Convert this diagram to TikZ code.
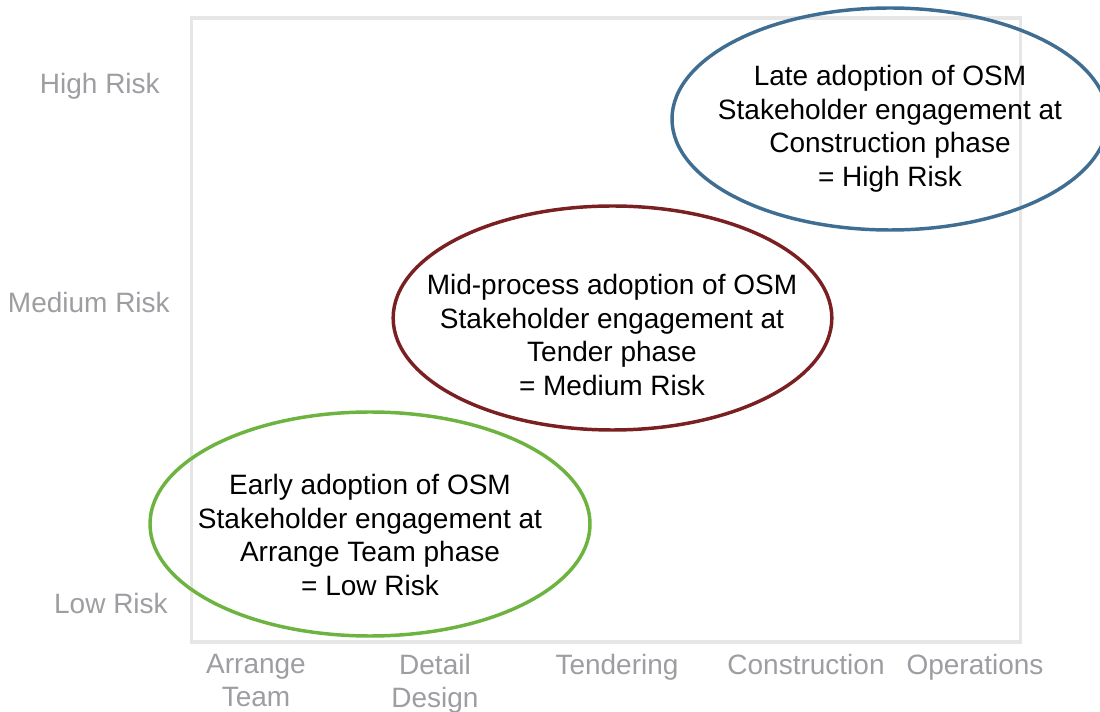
\documentclass[tikz,border=0pt]{standalone}
\usepackage{fontspec}
\setmainfont{Liberation Sans}
\usetikzlibrary{shapes.geometric}
\definecolor{framegray}{HTML}{E6E6E6}
\definecolor{axisgray}{HTML}{9D9DA2}
\definecolor{highblue}{HTML}{3F6E92}
\definecolor{midred}{HTML}{7A1F22}
\definecolor{lowgreen}{HTML}{6CB33F}
\tikzset{
  axislabel/.style={text=axisgray, inner sep=0pt, font=\fontsize{21}{25}\selectfont},
  xlabel/.style={axislabel, align=center, anchor=north},
  riskzone/.style={ellipse, draw, line width=2.6pt, inner sep=0pt},
  zonetext/.style={align=center, anchor=north, inner sep=0pt, text=black,
                   font=\fontsize{21}{25.2}\selectfont},
}
\begin{document}
\begin{tikzpicture}[x=0.75pt, y=-0.75pt]
\useasboundingbox (0,0) rectangle (1100,712);

% chart frame
\node[draw=framegray, line width=2.4pt, minimum width=621.75pt, minimum height=468pt, inner sep=0pt]
  (frame) at (606,330) {};

% risk levels
\node[axislabel, anchor=base east] (high) at (160,94) {High Risk};
\node[axislabel, anchor=base east] (medium) at (170,313) {Medium Risk};
\node[axislabel, anchor=base east] (low) at (168,614) {Low Risk};

% project stages
\node[xlabel] (arrange) at (256,654) {Arrange\\Team};
\node[xlabel] (detail) at (435,654) {Detail\\Design};
\node[xlabel] (tender) at (617,654) {Tendering};
\node[xlabel] (constr) at (806,654) {Construction};
\node[xlabel] (ops) at (975,654) {Operations};

% risk zones
\node[riskzone, draw=highblue, minimum width=327pt, minimum height=166.5pt] (zhigh) at (890,119) {};
\node[riskzone, draw=midred, minimum width=329pt, minimum height=168pt] (zmid) at (612.5,318) {};
\node[riskzone, draw=lowgreen, minimum width=330pt, minimum height=168pt] (zlow) at (370,524) {};

\node[zonetext] (thigh) at (890,65) {Late adoption of OSM\\Stakeholder engagement at\\Construction phase\\= High Risk};
\node[zonetext] (tmid) at (612,274) {Mid-process adoption of OSM\\Stakeholder engagement at\\Tender phase\\= Medium Risk};
\node[zonetext] (tlow) at (370,474) {Early adoption of OSM\\Stakeholder engagement at\\Arrange Team phase\\= Low Risk};
\end{tikzpicture}
\end{document}
